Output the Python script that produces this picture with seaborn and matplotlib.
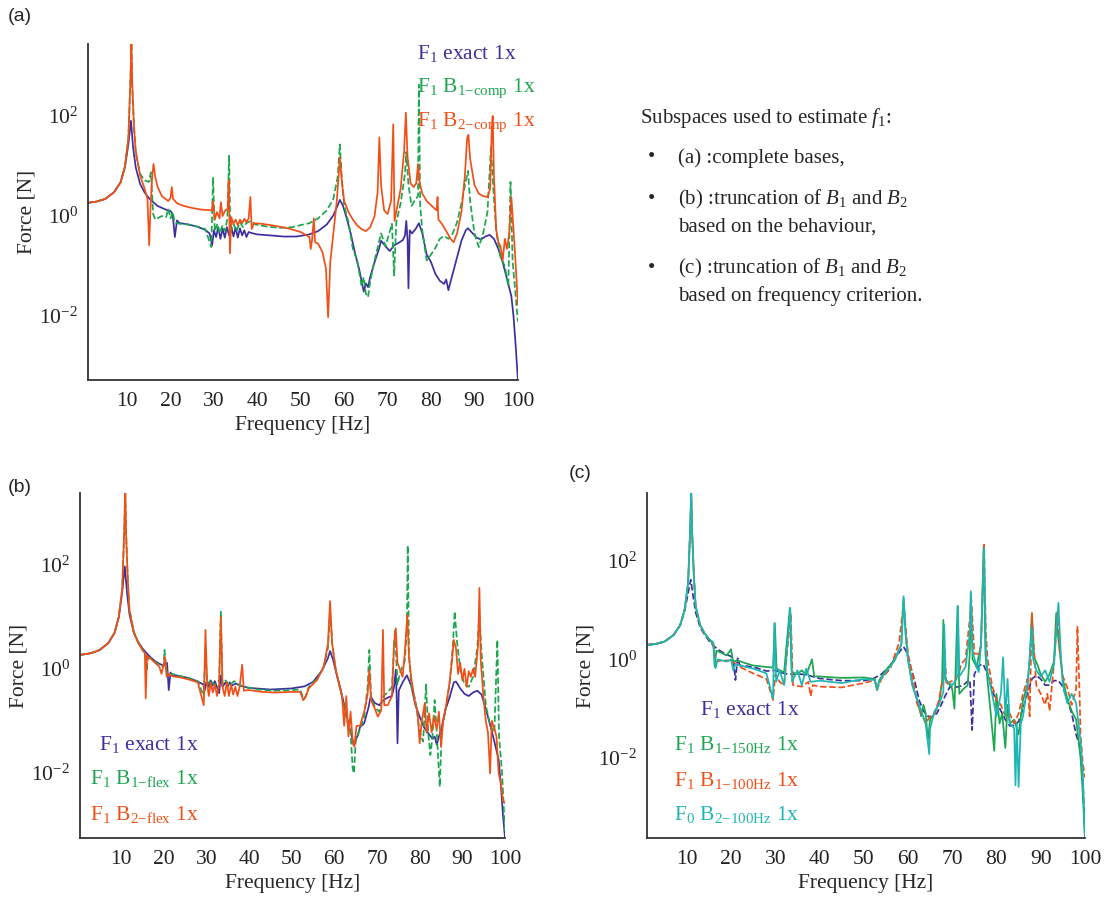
"""Force reconstruction spectra, three panels (a)/(b)/(c) with seaborn lines."""

import matplotlib
matplotlib.use("Agg")
import matplotlib.pyplot as plt
from matplotlib.ticker import NullLocator
import pandas as pd
import seaborn as sns

BLUE = "#3d2f9f"
GREEN = "#1ba64f"
ORANGE = "#f24f17"
CYAN = "#1db6b4"

# ---------------------------------------------------------------------------
# Data: (frequency [Hz], force [N])
# ---------------------------------------------------------------------------

# panel (a) complete bases
A_EXACT = [
    (1, 1.84), (3, 1.95), (5, 2.2), (7, 3.0), (8.5, 4.7), (9.5, 9.4), (10.3, 27), (10.9, 80),
    (11.4, 23), (12, 9.4), (13, 4.4), (14, 3.0), (15, 2.3), (16, 1.9), (17, 1.6), (18, 1.46),
    (19, 1.34), (20, 1.26), (20.5, 1.1), (21, 0.38), (21.5, 0.82), (22, 0.73), (24, 0.68),
    (26, 0.62), (28, 0.53), (29, 0.45), (29.6, 0.26), (30, 0.52), (30.5, 0.38), (31, 0.6),
    (31.5, 0.35), (32, 0.56), (32.5, 0.37), (33, 0.6), (33.5, 0.41), (34, 0.62), (34.5, 0.39),
    (35, 0.59), (35.5, 0.37), (36, 0.57), (36.5, 0.41), (37, 0.52), (37.5, 0.38), (38, 0.48),
    (39, 0.45), (40, 0.43), (43, 0.41), (46, 0.39), (49, 0.39), (52, 0.43), (54, 0.5),
    (56, 0.68), (57.5, 1.03), (58.5, 1.63), (59, 2.1), (59.7, 1.63), (60.5, 0.96), (61.5, 0.45),
    (62.5, 0.18), (63.5, 0.083), (64.5, 0.031), (65, 0.045), (65.5, 0.038), (66, 0.061),
    (67, 0.12), (68, 0.22), (68.5, 0.32), (69.5, 0.25), (70.5, 0.2), (71.5, 0.26), (72.5, 0.29),
    (73.5, 0.33), (74, 0.41), (74.3, 0.8), (74.6, 0.33), (74.8, 0.036), (75.1, 0.52),
    (75.6, 0.45), (76.5, 0.56), (77.2, 0.72), (78, 0.45), (79, 0.17), (80, 0.12), (81, 0.07),
    (82, 0.051), (83, 0.044), (83.5, 0.054), (84, 0.033), (84.5, 0.049), (85, 0.071),
    (86, 0.15), (87, 0.32), (88, 0.52), (88.5, 0.57), (89.5, 0.46), (90.5, 0.37), (91.5, 0.34),
    (92.5, 0.39), (93.5, 0.42), (94.5, 0.35), (95.5, 0.22), (96.5, 0.12), (97.5, 0.055),
    (98.5, 0.025), (99, 0.0098), (99.5, 0.0025), (100, 0.00054),
]
A_B1_COMP = [
    (1, 1.84), (3, 1.95), (5, 2.2), (7, 3.0), (8.5, 4.7), (9.5, 9.8), (10.3, 35), (10.8, 600),
    (11.0, 3000), (11.2, 400), (11.6, 60), (12, 18), (13, 7), (14, 5.2), (15, 4.8), (15.5, 7.5),
    (16, 1.1), (16.5, 0.85), (17, 0.9), (18, 1.0), (19, 0.95), (19.5, 1.4), (20, 0.9),
    (20.5, 1.2), (21, 0.75), (22, 0.7), (24, 0.68), (26, 0.62), (28, 0.55), (29.4, 0.24),
    (29.8, 6), (30.2, 0.5), (30.8, 0.7), (31.3, 0.45), (32, 0.65), (32.6, 0.5), (33.1, 0.9),
    (33.5, 16), (33.8, 0.45), (34.5, 0.7), (35.2, 0.5), (36, 0.75), (36.7, 0.6), (37.5, 0.72),
    (38.5, 0.8), (39.5, 0.68), (42, 0.62), (45, 0.58), (48, 0.6), (50, 0.66), (52, 0.72),
    (54, 0.9), (56, 1.3), (57.5, 2.2), (58.5, 6), (59, 27), (59.5, 5), (60, 1.6), (61, 0.75),
    (62, 0.22), (63, 0.13), (64, 0.04), (64.5, 0.06), (65, 0.028), (65.5, 0.024), (66, 0.05),
    (67, 0.13), (68, 0.3), (68.5, 0.45), (69.5, 0.25), (70, 0.35), (71, 0.7), (71.5, 0.065),
    (72, 0.75), (73, 1.8), (74, 7), (74.3, 19), (74.8, 4.2), (75.5, 1.6), (76.5, 2.2),
    (77, 2.5), (77.2, 420), (77.5, 1.6), (78, 0.5), (79, 0.13), (80, 0.17), (81, 0.23),
    (82, 0.35), (83, 0.4), (84, 0.35), (85, 0.45), (86, 0.75), (87, 1.8), (88, 5), (88.5, 8),
    (89, 2), (90, 0.45), (91, 0.24), (92, 0.45), (93, 1.2), (93.8, 24), (94.3, 4), (95, 0.5),
    (96, 0.15), (97, 0.1), (97.8, 0.04), (98.3, 4.8), (98.8, 0.12), (99.5, 0.025), (100, 0.0078),
]
A_B2_COMP = [
    (1, 1.84), (3, 1.95), (5, 2.2), (7, 3.0), (8.5, 4.7), (9.5, 9.8), (10.3, 35), (10.8, 600),
    (11.0, 3000), (11.2, 400), (11.6, 60), (12, 20), (13, 6.5), (14, 3.6), (14.7, 2.2),
    (15.1, 0.26), (15.4, 1.5), (15.8, 6.5), (16.1, 11), (16.5, 6.0), (17, 3.9), (18, 2.5),
    (19.5, 2.0), (20.0, 2.3), (20.3, 3.8), (20.6, 2.2), (21.5, 1.8), (23, 1.6), (25, 1.45),
    (27, 1.35), (29.5, 1.3), (29.8, 2.0), (30.2, 0.85), (30.7, 1.2), (31.3, 0.9), (31.6, 1.9),
    (32, 1.0), (32.6, 1.3), (33.2, 1.4), (33.4, 5.2), (33.7, 0.18), (34, 0.95), (34.5, 0.7),
    (35, 0.85), (35.5, 0.65), (36, 0.85), (36.5, 0.72), (37, 0.88), (37.5, 0.75), (38, 0.9),
    (38.4, 2.4), (38.7, 0.55), (39.2, 0.72), (41, 0.7), (44, 0.64), (47, 0.57), (50, 0.48),
    (52, 0.38), (52.3, 0.22), (52.6, 0.33), (53, 0.9), (53.3, 0.3), (54, 0.28), (55, 0.19),
    (55.8, 0.09), (56.3, 0.0095), (56.8, 0.12), (57.5, 0.45), (58.3, 2.0), (58.8, 8), (59, 15),
    (59.5, 4.5), (60, 2.0), (61, 1.2), (62, 0.85), (63, 0.65), (64, 0.55), (65, 0.5), (66, 0.6),
    (67, 1.0), (67.7, 3.0), (68.1, 37), (68.5, 4), (69.2, 1.3), (70, 1.1), (70.8, 2.0),
    (71.3, 68), (71.6, 0.8), (72.2, 1.5), (73, 3.5), (73.8, 20), (74.2, 116), (74.6, 15),
    (75.3, 4.5), (76, 3.8), (76.6, 4.5), (77.0, 11), (77.4, 4.5), (78, 2.8), (79, 2.0),
    (80.5, 1.5), (81.3, 1.3), (81.5, 2.4), (81.7, 0.85), (82.5, 0.7), (83.5, 0.5), (84.5, 0.35),
    (85.2, 0.3), (86, 0.45), (87, 1.2), (87.8, 6.5), (88.3, 35), (88.6, 42), (89, 14), (90, 4.2),
    (91, 2.8), (92, 2.5), (93, 2.4), (93.6, 3.5), (94, 60), (94.2, 100), (94.5, 6), (95, 0.55),
    (95.5, 0.3), (96, 0.25), (96.5, 0.13), (97, 0.35), (97.5, 0.22), (98, 0.45), (98.5, 2.4),
    (98.9, 0.7), (99.4, 0.15), (100, 0.017),
]

# panel (b) truncation based on behaviour
B_EXACT = [
    (0.4, 1.85), (3, 2.0), (5, 2.3), (7, 3.1), (8.5, 4.9), (9.5, 10), (10.3, 30), (10.9, 93),
    (11.4, 30), (12, 11), (13, 5), (14, 3.3), (15, 2.5), (16, 2.0), (17, 1.65), (18, 1.4),
    (19, 1.25), (20, 1.15), (20.8, 1.3), (21.2, 0.39), (21.6, 0.85), (22, 0.77), (24, 0.72),
    (26, 0.66), (28, 0.57), (29.3, 0.5), (29.6, 0.38), (30, 0.55), (30.5, 0.45), (31, 0.6),
    (31.5, 0.48), (32, 0.58), (32.5, 0.45), (33, 0.34), (33.4, 0.75), (33.8, 0.45), (34.5, 0.55),
    (35, 0.45), (35.5, 0.55), (36, 0.48), (37, 0.52), (38, 0.47), (39, 0.45), (40, 0.43),
    (45, 0.4), (50, 0.42), (53, 0.46), (55, 0.56), (57, 0.9), (58.5, 1.6), (59, 2.2),
    (59.7, 1.5), (60.5, 0.8), (61.5, 0.4), (62.5, 0.17), (63.5, 0.075), (64, 0.055),
    (64.5, 0.034), (65, 0.045), (65.5, 0.052), (66, 0.075), (67, 0.09), (68, 0.18), (68.5, 0.29),
    (69.5, 0.22), (70.5, 0.2), (71.5, 0.25), (72.5, 0.28), (73.5, 0.3), (74, 0.45), (74.4, 0.96),
    (74.6, 0.3), (74.8, 0.037), (75.1, 0.38), (76, 0.55), (77, 0.75), (78, 0.48), (79, 0.2),
    (80, 0.12), (81, 0.075), (82, 0.058), (83, 0.045), (83.5, 0.05), (84, 0.035), (84.5, 0.05),
    (85, 0.065), (86, 0.16), (87, 0.28), (88, 0.55), (88.5, 0.57), (89.5, 0.42), (90.5, 0.33),
    (91.5, 0.3), (92.5, 0.35), (93.5, 0.38), (94.5, 0.32), (95.5, 0.17), (96.5, 0.085),
    (97.5, 0.04), (98.5, 0.018), (99, 0.0063), (99.5, 0.0016), (100, 0.00055),
]
B_B1_FLEX = [
    (0.4, 1.85), (3, 2.0), (5, 2.3), (7, 3.1), (8.5, 4.9), (9.5, 10), (10.3, 35), (10.8, 500),
    (11.0, 3000), (11.2, 400), (11.6, 50), (12, 14), (13, 5.2), (14, 3.3), (15, 2.4),
    (15.8, 1.9), (16, 0.9), (16.3, 1.6), (17, 1.6), (18, 1.35), (19, 1.2), (20, 1.1), (20.2, 2.3),
    (20.6, 1.0), (21, 0.75), (22, 0.8), (24, 0.72), (26, 0.66), (28, 0.58), (29.4, 0.3),
    (29.8, 2.5), (30.2, 0.5), (31, 0.6), (32, 0.48), (33, 0.6), (33.4, 12.5), (33.8, 0.5),
    (34.5, 0.6), (35.5, 0.48), (36.5, 0.58), (37.5, 0.5), (39, 0.45), (42, 0.4), (46, 0.38),
    (50, 0.39), (52, 0.4), (52.8, 0.26), (53.3, 0.3), (54, 0.45), (56, 0.65), (57.5, 1.1),
    (58.5, 2.5), (59, 12), (59.5, 3), (60.3, 1.0), (61, 0.55), (62, 0.25), (63, 0.1),
    (63.8, 0.06), (64.3, 0.012), (64.6, 0.0098), (65, 0.04), (66, 0.07), (67, 0.12),
    (67.8, 0.45), (68.2, 2.3), (68.6, 0.3), (69.5, 0.18), (70.5, 0.15), (71.5, 0.3),
    (72.5, 0.35), (73.5, 0.45), (74.2, 5.6), (74.8, 0.5), (75.5, 0.9), (76.5, 1.4), (77, 6),
    (77.2, 235), (77.5, 2), (78, 0.5), (79, 0.25), (80, 0.06), (80.8, 0.04), (81.5, 0.5),
    (82, 0.06), (82.5, 0.022), (83, 0.05), (83.5, 0.25), (84, 0.06), (84.7, 0.0054),
    (85.2, 0.07), (86, 0.15), (87, 0.5), (87.8, 3), (88.2, 12.7), (88.8, 3), (89.5, 1.0),
    (90.5, 0.5), (91.5, 0.45), (92.5, 0.7), (93.5, 2.5), (94, 12), (94.5, 2), (95.5, 0.2),
    (96.5, 0.08), (97.5, 0.06), (98.2, 3.6), (98.6, 0.05), (99.3, 0.01), (100, 0.0007),
]
B_B2_FLEX = [
    (0.4, 1.85), (3, 2.0), (5, 2.3), (7, 3.1), (8.5, 4.9), (9.5, 10), (10.3, 35), (10.8, 600),
    (11.0, 3000), (11.2, 400), (11.6, 50), (12, 13), (13, 5), (14, 3.2), (15, 2.3), (15.6, 2.0),
    (15.8, 0.27), (16.1, 1.8), (17, 1.55), (18, 1.3), (19, 1.1), (19.5, 0.8), (20, 1.2),
    (20.3, 1.7), (20.7, 0.7), (21.2, 0.8), (22, 0.72), (24, 0.68), (26, 0.62), (28, 0.55),
    (29.4, 0.2), (29.8, 5.6), (30.2, 0.5), (30.6, 0.3), (31, 0.55), (31.5, 0.35), (32, 0.5),
    (32.5, 0.3), (33, 0.5), (33.4, 10), (33.8, 0.45), (34.3, 0.3), (34.8, 0.55), (35.3, 0.3),
    (35.8, 0.5), (36.3, 0.32), (36.8, 0.45), (37.3, 0.3), (37.8, 0.45), (38.4, 1.2),
    (38.8, 0.38), (40, 0.39), (43, 0.36), (46, 0.35), (50, 0.36), (52, 0.36), (52.7, 0.25),
    (53.2, 0.28), (54, 0.42), (56, 0.62), (57.5, 1.1), (58.5, 3), (59, 20), (59.5, 3),
    (60.3, 1.0), (61, 0.55), (61.8, 0.3), (62.3, 0.08), (62.8, 0.3), (63.3, 0.05), (63.8, 0.15),
    (64.3, 0.04), (64.7, 0.032), (65.2, 0.08), (66, 0.08), (67, 0.15), (67.8, 0.32),
    (68.2, 0.95), (68.6, 0.25), (69.5, 0.17), (70.2, 0.12), (71, 0.16), (71.4, 5.6), (71.7, 0.2),
    (72.5, 0.2), (73.5, 0.3), (74, 3.1), (74.4, 6), (74.8, 1.3), (75.5, 0.9), (76, 0.7),
    (76.5, 2.0), (77.1, 11), (77.5, 1.6), (78, 0.7), (78.8, 0.25), (79.5, 0.15), (80, 0.037),
    (80.5, 0.1), (81.2, 0.22), (81.6, 0.06), (82.2, 0.14), (82.8, 0.06), (83.3, 0.12),
    (84, 0.07), (84.5, 0.15), (85, 0.032), (85.5, 0.1), (86.2, 0.2), (87, 0.55), (87.6, 1.5),
    (88, 3.6), (88.5, 2.5), (89, 0.8), (89.5, 1.3), (90, 0.6), (90.5, 1.0), (91, 0.45),
    (91.5, 0.9), (92, 0.7), (92.5, 1.0), (93, 0.7), (93.7, 3.0), (94, 36), (94.3, 1.5),
    (95, 0.25), (95.5, 0.1), (96, 0.06), (96.5, 0.0098), (96.9, 0.1), (97.5, 0.07), (98, 0.05),
    (98.5, 0.0098), (99, 0.0065), (99.5, 0.003), (100, 0.0026),
]

# panel (c) truncation based on frequency criterion
C_EXACT = [
    (1, 1.95), (3, 2.05), (5, 2.3), (7, 3.1), (8.5, 4.9), (9.5, 9.5), (10.3, 22), (10.9, 41),
    (11.4, 20), (12, 9), (13, 4.5), (14, 3.2), (15, 2.4), (16, 1.9), (17, 1.6), (18, 1.4),
    (19, 1.25), (20, 1.15), (20.5, 1.0), (21, 0.38), (21.5, 1.05), (22, 0.75), (24, 0.72),
    (26, 0.66), (28, 0.58), (30, 0.6), (31, 0.55), (32, 0.52), (33, 0.5), (34, 0.5), (36, 0.5),
    (38, 0.46), (40, 0.41), (45, 0.37), (50, 0.37), (52, 0.4), (54, 0.5), (56, 0.75),
    (57.5, 1.2), (58.5, 1.6), (59, 1.8), (59.7, 1.4), (60.5, 0.75), (61.5, 0.37), (62.5, 0.15),
    (63.5, 0.09), (64.5, 0.07), (65.5, 0.068), (66.5, 0.08), (67.5, 0.12), (68.5, 0.19),
    (69.5, 0.28), (70.5, 0.27), (71.5, 0.28), (72.5, 0.3), (73.5, 0.36), (74, 0.38),
    (74.5, 0.037), (75, 0.5), (76, 0.75), (77, 0.8), (78, 0.5), (79, 0.24), (80, 0.14),
    (81, 0.09), (82, 0.06), (83, 0.045), (84, 0.046), (85, 0.055), (86, 0.1), (87, 0.2),
    (88, 0.4), (89, 0.47), (90, 0.4), (91, 0.3), (92, 0.3), (93, 0.37), (94, 0.37), (95, 0.28),
    (96, 0.15), (97, 0.08), (98, 0.03), (99, 0.015), (99.5, 0.004), (100, 0.0003),
]
C_B1_150 = [
    (1, 1.95), (3, 2.05), (5, 2.3), (7, 3.1), (8.5, 4.9), (9.5, 10), (10.3, 35), (10.8, 500),
    (11.0, 2500), (11.2, 400), (11.6, 50), (12, 12), (13, 5), (14, 3.4), (15, 2.6), (16, 2.0),
    (16.3, 0.72), (16.7, 1.5), (17.5, 1.4), (19, 1.2), (20, 1.6), (20.5, 0.9), (21.5, 0.95),
    (23, 0.85), (25, 0.75), (28, 0.7), (29.5, 0.68), (29.9, 5.4), (30.3, 0.65), (31, 0.6),
    (32, 0.55), (33.3, 11), (33.7, 0.55), (35, 0.5), (36, 0.6), (37, 0.48), (38.3, 1.0),
    (38.8, 0.45), (40, 0.45), (45, 0.42), (50, 0.43), (52.5, 0.4), (53, 0.24), (53.5, 0.38),
    (55, 0.6), (57, 1.0), (58.5, 2.0), (59, 17), (59.5, 3), (60, 1.0), (61, 0.3), (62, 0.16),
    (63, 0.07), (63.5, 0.12), (64, 0.08), (64.5, 0.023), (65, 0.06), (66, 0.08), (67, 0.13),
    (67.7, 0.35), (68, 6.3), (68.4, 0.4), (69.5, 0.3), (70, 0.25), (70.5, 0.1), (71.2, 12),
    (71.6, 0.2), (72.5, 0.25), (73.5, 0.3), (74, 1.5), (74.2, 22), (74.6, 1.0), (75.5, 0.7),
    (76.5, 2.0), (77.1, 200), (77.5, 1.3), (78, 0.35), (78.7, 0.08), (79.5, 0.014), (80, 0.2),
    (80.7, 0.05), (81.3, 0.08), (82, 0.016), (82.5, 0.12), (83, 0.05), (84, 0.06), (85, 0.03),
    (86, 0.15), (87, 0.3), (87.5, 1.0), (88, 8.6), (88.5, 1.1), (89.2, 0.8), (90, 0.5),
    (91, 0.35), (92, 0.5), (93, 0.9), (93.5, 8.6), (94, 2.5), (95, 0.4), (96, 0.16), (97, 0.09),
    (98, 0.06), (98.5, 0.025), (99, 0.01), (99.5, 0.002), (100, 0.00023),
]
C_B1_100 = [
    (1, 2.0), (3, 2.05), (5, 2.3), (7, 3.1), (8.5, 4.9), (9.5, 10), (10.3, 35), (10.8, 500),
    (11.0, 2500), (11.2, 400), (11.6, 50), (12, 12), (13, 5), (14, 3.4), (15, 2.6), (16, 2.0),
    (16.5, 0.9), (18, 0.95), (20, 0.95), (22, 0.7), (25, 0.52), (28, 0.4), (29.5, 0.15),
    (30, 0.5), (31, 0.35), (32, 0.3), (33.5, 8.6), (34, 0.3), (36, 0.28), (37.5, 0.35),
    (38, 0.18), (38.5, 0.3), (40, 0.28), (45, 0.27), (50, 0.33), (52.5, 0.38), (53, 0.24),
    (54, 0.4), (56, 0.65), (58, 2.2), (59, 14), (60, 1.3), (61, 0.5), (62, 0.13), (63, 0.08),
    (64, 0.05), (65, 0.07), (66, 0.08), (67, 0.15), (68, 0.45), (68.3, 1.5), (68.7, 0.3),
    (69.5, 0.35), (70.5, 0.38), (71.5, 0.5), (72, 0.8), (73, 1.0), (74, 7), (74.3, 17),
    (75, 1.3), (76, 1.3), (76.5, 1.8), (77.2, 210), (77.6, 3.5), (78, 1.0), (79, 0.3),
    (80, 0.15), (81, 0.12), (82, 0.07), (83, 0.08), (84, 0.05), (85, 0.08), (86, 0.2),
    (87, 0.4), (87.5, 0.07), (88, 8.6), (88.5, 1.5), (89, 0.3), (90, 0.2), (91, 0.12),
    (91.5, 0.2), (92, 0.09), (93, 0.8), (93.8, 10), (94.3, 1.5), (95, 0.45), (96, 0.27),
    (97, 0.12), (98, 0.25), (98.3, 4.6), (98.8, 0.18), (99, 0.03), (99.5, 0.008), (100, 0.004),
]
C_B2_100 = [
    (1, 1.95), (3, 2.05), (5, 2.3), (7, 3.1), (8.5, 4.9), (9.5, 10), (10.3, 35), (10.8, 500),
    (11.0, 2500), (11.2, 400), (11.6, 50), (12, 12), (13, 5), (14, 3.4), (15, 2.6), (16, 2.2),
    (16.5, 0.66), (17, 1.0), (19, 0.9), (20, 1.0), (20.5, 0.6), (21, 0.8), (22, 0.75),
    (25, 0.65), (28, 0.52), (29.5, 0.16), (29.8, 5.4), (30.2, 0.35), (31, 0.6), (32, 0.3),
    (33.4, 11), (33.8, 0.35), (35, 0.6), (36, 0.3), (37, 0.65), (38, 0.35), (40, 0.37),
    (45, 0.33), (50, 0.4), (52.5, 0.38), (53, 0.24), (53.5, 0.36), (55, 0.55), (57, 0.95),
    (58.5, 2), (59, 19), (59.5, 3), (60, 1.0), (61, 0.3), (62, 0.16), (63, 0.09), (64, 0.05),
    (64.8, 0.012), (65, 0.04), (66, 0.09), (67, 0.12), (68, 0.22), (68.2, 5), (68.5, 0.4),
    (69, 0.35), (70, 0.3), (71, 0.4), (71.3, 12), (71.6, 0.45), (72.5, 0.6), (73, 0.7),
    (74, 3.5), (74.2, 24), (74.6, 1.5), (75.5, 0.7), (76, 0.55), (76.5, 2.0), (77.2, 180),
    (77.6, 1.5), (78, 0.55), (79, 0.2), (80, 0.07), (81, 0.2), (81.5, 1.1), (82, 0.07),
    (82.5, 0.4), (83, 0.05), (84, 0.04), (84.3, 0.0028), (84.6, 0.05), (85, 0.0026),
    (85.5, 0.05), (86, 0.07), (87, 0.3), (87.5, 1.0), (88, 4.5), (88.3, 1.0), (89, 0.6),
    (90, 0.45), (91, 0.6), (92, 0.35), (93, 0.8), (94, 14), (94.5, 1.5), (95, 0.3), (96, 0.13),
    (97, 0.2), (98, 0.13), (99, 0.022), (99.5, 0.005), (100, 0.00025),
]

NOTE_LINES = [
    ("(a) :complete bases,", None),
    ("(b) :truncation of $B_1$ and $B_2$", "based on the behaviour,"),
    ("(c) :truncation of $B_1$ and $B_2$", "based on frequency criterion."),
]

# ---------------------------------------------------------------------------
# Helpers
# ---------------------------------------------------------------------------

SERIF = "Liberation Serif"


def _draw(ax, pairs, color, dashed=False, lw=1.25):
    df = pd.DataFrame(pairs, columns=["freq", "force"])
    sns.lineplot(data=df, x="freq", y="force", ax=ax, color=color, linewidth=lw,
                 linestyle="--" if dashed else "-", estimator=None, sort=False)


def _style(ax, xmin, ylim):
    ax.set_yscale("log")
    ax.set_xlim(xmin, 100)
    ax.set_ylim(*ylim)
    ax.set_xticks(range(10, 101, 10))
    ax.set_yticks([1e-2, 1, 1e2])
    ax.yaxis.set_minor_locator(NullLocator())
    ax.tick_params(direction="in", length=4, width=1, labelsize=15.5, colors="#222222")
    ax.tick_params(axis="x", pad=9)
    ax.tick_params(axis="y", pad=7)
    for side in ("top", "right"):
        ax.spines[side].set_visible(False)
    for side in ("left", "bottom"):
        ax.spines[side].set_color("#333333")
        ax.spines[side].set_linewidth(1.3)
    ax.set_xlabel("Frequency [Hz]", fontsize=15.5, labelpad=3)
    ax.set_ylabel("Force [N]", fontsize=15.5, labelpad=2)


def _labels(ax, items, x, ys, ha):
    for (txt, color), y in zip(items, ys):
        ax.text(x, y, txt, transform=ax.transAxes, color=color, fontsize=15.5,
                ha=ha, va="center")


# ---------------------------------------------------------------------------
# Figure
# ---------------------------------------------------------------------------

sns.set_theme(style="white")
plt.rcParams["font.family"] = [SERIF, "DejaVu Serif"]
plt.rcParams["mathtext.fontset"] = "custom"
plt.rcParams["mathtext.rm"] = SERIF
plt.rcParams["mathtext.it"] = SERIF + ":italic"
plt.rcParams["mathtext.bf"] = SERIF + ":bold"

fig = plt.figure(figsize=(11.08, 8.97), dpi=100)

ax_a = fig.add_axes([0.0794, 0.5764, 0.388, 0.3746])
ax_b = fig.add_axes([0.0722, 0.0658, 0.3836, 0.3846])
ax_c = fig.add_axes([0.5839, 0.0658, 0.3953, 0.3846])

# (a)
_draw(ax_a, A_EXACT, BLUE)
_draw(ax_a, A_B1_COMP, GREEN, dashed=True)
_draw(ax_a, A_B2_COMP, ORANGE)
_style(ax_a, 1, (5.3e-4, 2.75e3))
_labels(ax_a, [
    (r"F$_1$ exact 1x", BLUE),
    (r"F$_1$ B$_{\mathrm{1{-}comp}}$ 1x", GREEN),
    (r"F$_1$ B$_{\mathrm{2{-}comp}}$ 1x", ORANGE),
], 0.765, [0.973, 0.869, 0.768], "left")

# (b)
_draw(ax_b, B_EXACT, BLUE)
_draw(ax_b, B_B1_FLEX, GREEN, dashed=True)
_draw(ax_b, B_B2_FLEX, ORANGE)
_style(ax_b, 0.4, (5.6e-4, 2.4e3))
_labels(ax_b, [
    (r"F$_1$ exact 1x", BLUE),
    (r"F$_1$ B$_{\mathrm{1{-}flex}}$ 1x", GREEN),
    (r"F$_1$ B$_{\mathrm{2{-}flex}}$ 1x", ORANGE),
], 0.278, [0.272, 0.171, 0.067], "right")

# (c)
_draw(ax_c, C_EXACT, BLUE, dashed=True)
_draw(ax_c, C_B1_150, GREEN)
_draw(ax_c, C_B1_100, ORANGE, dashed=True)
_draw(ax_c, C_B2_100, CYAN)
_style(ax_c, 1, (2.4e-4, 2.35e3))
_labels(ax_c, [
    (r"F$_1$ exact 1x", BLUE),
    (r"F$_1$ B$_{\mathrm{1{-}150Hz}}$ 1x", GREEN),
    (r"F$_1$ B$_{\mathrm{1{-}100Hz}}$ 1x", ORANGE),
    (r"F$_0$ B$_{\mathrm{2{-}100Hz}}$ 1x", CYAN),
], 0.348, [0.371, 0.27, 0.168, 0.067], "right")

# panel tags
for tag, x, y in [("(a)", 0.007, 0.982), ("(b)", 0.007, 0.457), ("(c)", 0.513, 0.472)]:
    fig.text(x, y, tag, fontsize=14, family="Liberation Sans", ha="left", va="center")

# explanatory note
fig.text(0.578, 0.868, r"Subspaces used to estimate $f_1$:", fontsize=15, va="center")
y = 0.824
for first, second in NOTE_LINES:
    fig.text(0.585, y, "\u2022", fontsize=15, va="center")
    fig.text(0.612, y, first, fontsize=15, va="center")
    if second:
        y -= 0.031
        fig.text(0.612, y, second, fontsize=15, va="center")
    y -= 0.046

fig.savefig("out.png", dpi=100)
